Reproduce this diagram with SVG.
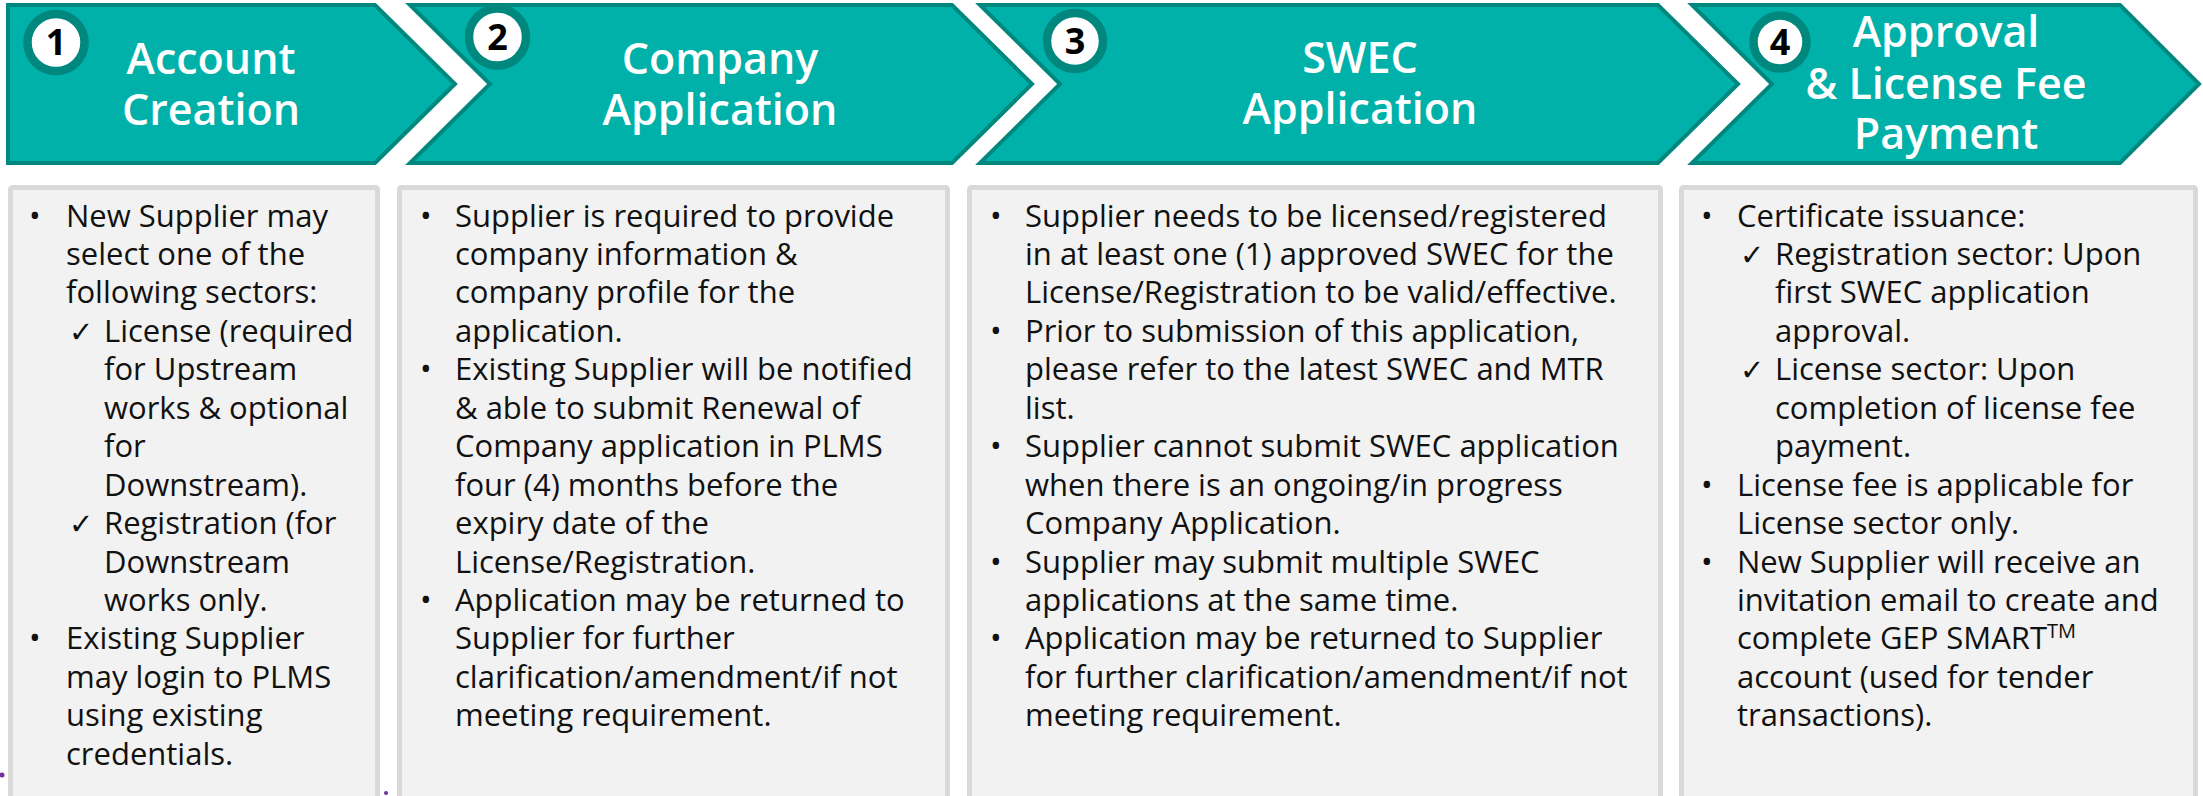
<svg xmlns="http://www.w3.org/2000/svg" width="2203" height="796" viewBox="0 0 2203 796">
  <style>
    .chev { fill: #00b1a9; stroke: #00877e; stroke-width: 4; stroke-linejoin: miter; }
    .badge { fill: #ffffff; stroke: #00877e; stroke-width: 8.5; }
    .num { font-family: "Open Sans", "Liberation Sans", sans-serif; font-weight: 700; font-size: 36px; fill: #000000; text-anchor: middle; }
    .head { font-family: "Open Sans", "Liberation Sans", sans-serif; font-weight: 600; font-size: 43px; fill: #ffffff; text-anchor: middle; }
    .card { fill: #f2f2f2; stroke: #d9d9d9; stroke-width: 5; }
    .body { font-family: "Open Sans", "Liberation Sans", sans-serif; font-size: 31px; fill: #111111; }
    .bul { font-family: "Open Sans", "Liberation Sans", sans-serif; font-size: 31px; fill: #111111; }
    .tick { font-family: "DejaVu Sans", sans-serif; font-size: 29px; fill: #111111; }
    .dot { fill: #7030a0; }
  </style>

  <!-- step 1 -->
  <g id="step1">
    <polygon class="chev" points="8,5 375,5 455,84 375,163 8,163"/>
    <circle class="badge" cx="56" cy="42.5" r="28.5"/>
    <text class="num" x="56" y="55">1</text>
    <text class="head" x="211" y="74">Account</text>
    <text class="head" x="211" y="125">Creation</text>
  </g>

  <!-- step 2 -->
  <g id="step2">
    <polygon class="chev" points="410,5 952,5 1032,84 952,163 410,163 490,84"/>
    <circle class="badge" cx="497.5" cy="37" r="28.5"/>
    <text class="num" x="497.5" y="50">2</text>
    <text class="head" x="720" y="74">Company</text>
    <text class="head" x="720" y="125">Application</text>
  </g>

  <!-- step 3 -->
  <g id="step3">
    <polygon class="chev" points="980,5 1658,5 1738,84 1658,163 980,163 1060,84"/>
    <circle class="badge" cx="1075" cy="41" r="28"/>
    <text class="num" x="1075" y="54">3</text>
    <text class="head" x="1360" y="73">SWEC</text>
    <text class="head" x="1360" y="124">Application</text>
  </g>

  <!-- step 4 -->
  <g id="step4">
    <polygon class="chev" points="1692,5 2120,5 2199,84 2120,163 1692,163 1772,84"/>
    <circle class="badge" cx="1780" cy="42" r="26.5"/>
    <text class="num" x="1780" y="55">4</text>
    <text class="head" x="1946" y="47">Approval</text>
    <text class="head" x="1946" y="99">&amp; License Fee</text>
    <text class="head" x="1946" y="149">Payment</text>
  </g>

  <!-- detail card 1 -->
  <g id="card1">
    <rect class="card" x="10.5" y="187.5" width="367" height="640" rx="2"/>
    <text class="bul" x="29" y="226.5">•</text>
    <text class="bul" x="29" y="649.4">•</text>
    <text class="tick" x="69" y="341.8">✓</text>
    <text class="tick" x="69" y="534.1">✓</text>
    <text class="body">
      <tspan x="66" y="226.5">New Supplier may</tspan>
      <tspan x="66" y="264.9">select one of the</tspan>
      <tspan x="66" y="303.4">following sectors:</tspan>
      <tspan x="104" y="341.8">License (required</tspan>
      <tspan x="104" y="380.3">for Upstream</tspan>
      <tspan x="104" y="418.7">works &amp; optional</tspan>
      <tspan x="104" y="457.2">for</tspan>
      <tspan x="104" y="495.6">Downstream).</tspan>
      <tspan x="104" y="534.1">Registration (for</tspan>
      <tspan x="104" y="572.5">Downstream</tspan>
      <tspan x="104" y="611">works only.</tspan>
      <tspan x="66" y="649.4">Existing Supplier</tspan>
      <tspan x="66" y="687.9">may login to PLMS</tspan>
      <tspan x="66" y="726.3">using existing</tspan>
      <tspan x="66" y="764.8">credentials.</tspan>
    </text>
  </g>

  <!-- detail card 2 -->
  <g id="card2">
    <rect class="card" x="399.5" y="187.5" width="548" height="640" rx="2"/>
    <text class="bul" x="420" y="226.5">•</text>
    <text class="bul" x="420" y="380.3">•</text>
    <text class="bul" x="420" y="611">•</text>
    <text class="body">
      <tspan x="455" y="226.5">Supplier is required to provide</tspan>
      <tspan x="455" y="264.9">company information &amp;</tspan>
      <tspan x="455" y="303.4">company profile for the</tspan>
      <tspan x="455" y="341.8">application.</tspan>
      <tspan x="455" y="380.3">Existing Supplier will be notified</tspan>
      <tspan x="455" y="418.7">&amp; able to submit Renewal of</tspan>
      <tspan x="455" y="457.2">Company application in PLMS</tspan>
      <tspan x="455" y="495.6">four (4) months before the</tspan>
      <tspan x="455" y="534.1">expiry date of the</tspan>
      <tspan x="455" y="572.5">License/Registration.</tspan>
      <tspan x="455" y="611">Application may be returned to</tspan>
      <tspan x="455" y="649.4">Supplier for further</tspan>
      <tspan x="455" y="687.9">clarification/amendment/if not</tspan>
      <tspan x="455" y="726.3">meeting requirement.</tspan>
    </text>
  </g>

  <!-- detail card 3 -->
  <g id="card3">
    <rect class="card" x="969.5" y="187.5" width="691" height="640" rx="2"/>
    <text class="bul" x="990" y="226.5">•</text>
    <text class="bul" x="990" y="341.8">•</text>
    <text class="bul" x="990" y="457.2">•</text>
    <text class="bul" x="990" y="572.5">•</text>
    <text class="bul" x="990" y="649.4">•</text>
    <text class="body">
      <tspan x="1025" y="226.5">Supplier needs to be licensed/registered</tspan>
      <tspan x="1025" y="264.9">in at least one (1) approved SWEC for the</tspan>
      <tspan x="1025" y="303.4">License/Registration to be valid/effective.</tspan>
      <tspan x="1025" y="341.8">Prior to submission of this application,</tspan>
      <tspan x="1025" y="380.3">please refer to the latest SWEC and MTR</tspan>
      <tspan x="1025" y="418.7">list.</tspan>
      <tspan x="1025" y="457.2">Supplier cannot submit SWEC application</tspan>
      <tspan x="1025" y="495.6">when there is an ongoing/in progress</tspan>
      <tspan x="1025" y="534.1">Company Application.</tspan>
      <tspan x="1025" y="572.5">Supplier may submit multiple SWEC</tspan>
      <tspan x="1025" y="611">applications at the same time.</tspan>
      <tspan x="1025" y="649.4">Application may be returned to Supplier</tspan>
      <tspan x="1025" y="687.9">for further clarification/amendment/if not</tspan>
      <tspan x="1025" y="726.3">meeting requirement.</tspan>
    </text>
  </g>

  <!-- detail card 4 -->
  <g id="card4">
    <rect class="card" x="1681.5" y="187.5" width="514" height="640" rx="2"/>
    <text class="bul" x="1701" y="226.5">•</text>
    <text class="bul" x="1701" y="495.6">•</text>
    <text class="bul" x="1701" y="572.5">•</text>
    <text class="tick" x="1740" y="264.9">✓</text>
    <text class="tick" x="1740" y="380.3">✓</text>
    <text class="body">
      <tspan x="1737" y="226.5">Certificate issuance:</tspan>
      <tspan x="1775" y="264.9">Registration sector: Upon</tspan>
      <tspan x="1775" y="303.4">first SWEC application</tspan>
      <tspan x="1775" y="341.8">approval.</tspan>
      <tspan x="1775" y="380.3">License sector: Upon</tspan>
      <tspan x="1775" y="418.7">completion of license fee</tspan>
      <tspan x="1775" y="457.2">payment.</tspan>
      <tspan x="1737" y="495.6">License fee is applicable for</tspan>
      <tspan x="1737" y="534.1">License sector only.</tspan>
      <tspan x="1737" y="572.5">New Supplier will receive an</tspan>
      <tspan x="1737" y="611">invitation email to create and</tspan>
      <tspan x="1737" y="649.4">complete GEP SMART<tspan dy="-11" font-size="20">TM</tspan></tspan>
      <tspan x="1737" y="687.9">account (used for tender</tspan>
      <tspan x="1737" y="726.3">transactions).</tspan>
    </text>
  </g>

  <!-- stray marks along the lower edge -->
  <circle class="dot" cx="2" cy="775" r="2.5"/>
  <circle class="dot" cx="386" cy="793" r="2"/>
</svg>
